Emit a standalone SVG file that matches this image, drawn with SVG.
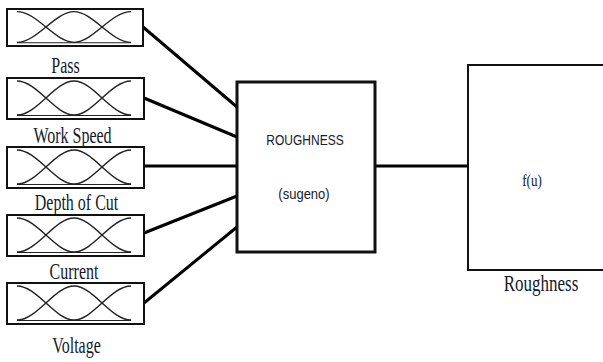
<svg xmlns="http://www.w3.org/2000/svg" width="603" height="362" viewBox="0 0 603 362">
<style>
.box{fill:#fff;stroke:#111;stroke-width:2}
.mf{fill:none;stroke:#222;stroke-width:1.4}
.base{fill:none;stroke:#222;stroke-width:1.2}
.lbl{font-family:"Liberation Serif",serif;font-size:16px;fill:#141a2a;text-anchor:middle}
.sans{font-family:"Liberation Sans",Arial,sans-serif;fill:#1a1a2a;text-anchor:middle}
.conn{stroke:#000;stroke-width:3;fill:none;stroke-linecap:round}
</style>
<defs>
<g id="mfs">
<path class="mf" d="M10,3 C30,3 48,37 67,37"/>
<path class="mf" d="M10,37 C30,37 48,3 67,3 C86,3 104,37 124,37"/>
<path class="mf" d="M67,37 C86,37 104,3 124,3"/>
<path class="base" d="M10,37.5 H124"/>
</g>
</defs>
<rect width="603" height="362" fill="#fff"/>
<g id="connectors">
<line class="conn" x1="143" y1="27" x2="237" y2="107"/>
<line class="conn" x1="144" y1="98" x2="237" y2="137"/>
<line class="conn" x1="144" y1="166" x2="237" y2="166"/>
<line class="conn" x1="144" y1="233" x2="237" y2="196"/>
<line class="conn" x1="144" y1="303" x2="237" y2="227"/>
<line class="conn" x1="375" y1="166" x2="468" y2="166"/>
</g>
<g id="pass">
<rect class="box" x="7" y="9" width="136" height="37"/>
<use href="#mfs" transform="translate(7,9) scale(1,0.9)"/>
<text class="lbl" transform="translate(65.5,73) scale(1,1.4)">Pass</text>
</g>
<g id="workspeed">
<rect class="box" x="7" y="78" width="137" height="41"/>
<use href="#mfs" transform="translate(7,78)"/>
<text class="lbl" transform="translate(72.5,143) scale(1,1.4)">Work Speed</text>
</g>
<g id="depthofcut">
<rect class="box" x="7" y="147" width="137" height="41"/>
<use href="#mfs" transform="translate(7,147)"/>
<text class="lbl" transform="translate(76.5,210) scale(1,1.4)">Depth of Cut</text>
</g>
<g id="current">
<rect class="box" x="7" y="215" width="137" height="41"/>
<use href="#mfs" transform="translate(7,215)"/>
<text class="lbl" transform="translate(74,279) scale(1,1.4)">Current</text>
</g>
<g id="voltage">
<rect class="box" x="7" y="283" width="137" height="41"/>
<use href="#mfs" transform="translate(7,283)"/>
<text class="lbl" transform="translate(76.5,353) scale(1,1.4)">Voltage</text>
</g>
<g id="roughness-fis">
<rect x="237" y="82" width="138" height="170" fill="#fff" stroke="#111" stroke-width="3"/>
<text class="sans" font-size="12" transform="translate(305,145) scale(1,1.15)">ROUGHNESS</text>
<text class="sans" font-size="13" transform="translate(304,199) scale(1,1.1)">(sugeno)</text>
</g>
<g id="roughness-out">
<rect class="box" x="468" y="65" width="150" height="205"/>
<text class="lbl" font-size="13" transform="translate(532,186) scale(1,1.3)" style="font-size:13px">f(u)</text>
<text class="lbl" transform="translate(541,291) scale(1,1.35)" style="font-size:17px">Roughness</text>
</g>
</svg>
